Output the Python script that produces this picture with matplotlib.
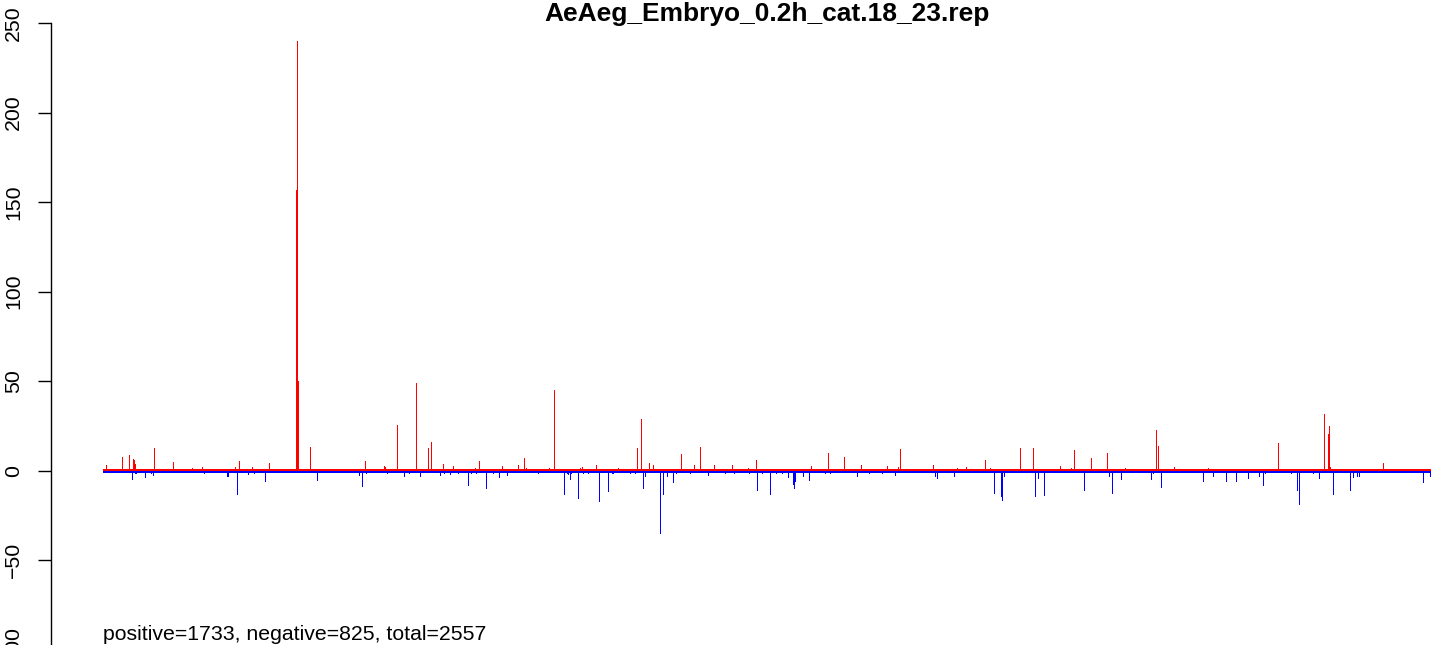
import matplotlib
matplotlib.use("Agg")
import matplotlib.pyplot as plt
import numpy as np

plt.rcParams["font.family"] = ["Liberation Sans", "DejaVu Sans"]

title = "AeAeg_Embryo_0.2h_cat.18_23.rep"
n_positions = 2557
summary = "positive=1733, negative=825, total=2557"

# background level of the many tiny bars (estimated, too small to read one by one)
base_pos = 1.0
base_neg = -1.0

# readable positive spikes: position index, count
pos_idx = [6, 37, 49, 58, 60, 62, 97, 134, 170, 191, 253, 261, 286, 319,
           371, 372, 373, 374, 375, 399, 504, 540, 542, 565, 602, 625, 631,
           654, 673, 717, 723, 769, 800, 810, 814, 858, 868, 918, 922, 949,
           991, 1028, 1037, 1051, 1060, 1114, 1139, 1149, 1176, 1211, 1242,
           1257, 1363, 1396, 1428, 1459, 1511, 1531, 1536, 1598, 1645, 1662,
           1698, 1708, 1766, 1791, 1843, 1865, 1871, 1903, 1934, 1969, 2028,
           2032, 2063, 2129, 2263, 2353, 2359, 2361, 2363, 2466]
pos_val = [3, 7.5, 8.5, 6.5, 6, 3.7, 12.7, 4.8, 1.5, 2, 2, 5.4, 2, 4.3,
           157, 50, 50, 240, 50, 13.2, 5.4, 2.6, 2, 25.5, 49, 12.7, 16,
           3.7, 2.6, 1.5, 5.4, 2.6, 3.2, 7, 1.5, 1.5, 45, 1.5, 2, 3.2,
           1.5, 12.7, 28.9, 4.3, 3.2, 9.3, 3.2, 13.2, 3.2, 3.2, 1.5,
           6, 2.6, 9.9, 7.6, 3.2, 2.6, 2, 12, 3, 1.5, 2,
           6, 1.5, 12.7, 12.7, 2.5, 1.5, 11.6, 7, 10, 1.5, 23,
           14, 2, 1.5, 15.6, 31.6, 20.7, 24.7, 2, 4.5]

# readable negative spikes
neg_idx = [55, 80, 91, 95, 238, 240, 257, 278, 311, 411, 492, 498, 579, 611,
           648, 669, 702, 737, 762, 777, 887, 895, 899, 914, 956, 972, 1039,
           1043, 1072, 1078, 1086, 1097, 1166, 1259, 1284, 1319, 1328, 1330,
           1332, 1348, 1359, 1452, 1525, 1603, 1607, 1640, 1716, 1729, 1731,
           1735, 1795, 1801, 1812, 1889, 1937, 1943, 1961, 2018, 2038, 2118,
           2138, 2163, 2183, 2205, 2226, 2234, 2300, 2304, 2342, 2369, 2402,
           2408, 2416, 2420, 2543, 2556]
neg_val = [-4.7, -3.5, -1.3, -2.4, -3, -3, -13, -1.9, -5.8, -5.2, -2.4, -8.6, -3, -3,
           -2.4, -1.9, -8, -9.7, -3.5, -2.4, -13, -1.9, -4.7, -15.3, -17, -11.4, -9.7,
           -3, -34.8, -13, -3, -6.3, -2.4, -10.8, -13, -3.5, -7.5, -9.7,
           -6, -3, -5.2, -3, -2.4, -3.2, -3.8, -3.2, -12.5, -14, -16.5,
           -2.7, -14, -3.8, -13.5, -10.5, -3.2, -12.5, -4.4, -4.9, -9, -5.5,
           -3.2, -6, -6, -3.8, -3.2, -8, -10.6, -18.5, -3.8, -13, -10.5,
           -3.5, -2.7, -2.7, -6.5, -3.2]

# small visible dips a bit below the background
small_neg_idx = [62, 64, 195, 290, 506, 546, 590, 656, 683, 708, 719, 750, 837,
                 893, 902, 924, 933, 981, 983, 1014, 1024, 1103, 1130, 1197,
                 1215, 1244, 1269, 1296, 1307, 1390, 1401, 1475, 1500, 2022,
                 2238, 2288, 2330]
small_neg_val = -1.3

positions = np.arange(n_positions)
pos = np.full(n_positions, base_pos)
pos[pos_idx] = pos_val
neg = np.full(n_positions, base_neg)
neg[small_neg_idx] = small_neg_val
neg[neg_idx] = neg_val

W, H = 1433, 645
fig = plt.figure(figsize=(W / 100, H / 100), dpi=100)

# axes placed so that the frame matches the (cropped) R plot region
px_per_unit = 447.7 / 250
y0_px = 470.7
ax_top, ax_bot = 0, 700
ax = fig.add_axes([50.7 / W, (H - ax_bot) / H, 1432.3 / W, (ax_bot - ax_top) / H])
ax.set_ylim((y0_px - ax_bot) / px_per_unit, y0_px / px_per_unit)
ax.set_xlim(-101.3, 2658.4)

ax.hlines(-0.35, positions[0], positions[-1], color="#bebebe", lw=0.8, zorder=1)
ax.vlines(positions, 0, pos, color="red", lw=0.72, antialiased=False, zorder=2)
ax.vlines(positions, 0, neg, color="blue", lw=0.72, antialiased=False, zorder=2)

for s in ["top", "right", "bottom"]:
    ax.spines[s].set_visible(False)
ax.spines["left"].set_bounds(-100, 250)
ax.spines["left"].set_linewidth(1.0)
ax.set_yticks(np.arange(-100, 251, 50))
ax.set_xticks([])
ax.tick_params(axis="y", length=9.4, width=1.0, pad=10.5, labelsize=15.3)
for lab in ax.get_yticklabels():
    lab.set_rotation(90)
    lab.set_va("center")

ax.text(-0.6, -94.5, summary, fontsize=15.3, ha="left", va="baseline")
fig.text(767 / W, 1 - 20.5 / H, title, fontsize=19, fontweight="bold",
         ha="center", va="baseline")

fig.savefig("out.png", dpi=100)
